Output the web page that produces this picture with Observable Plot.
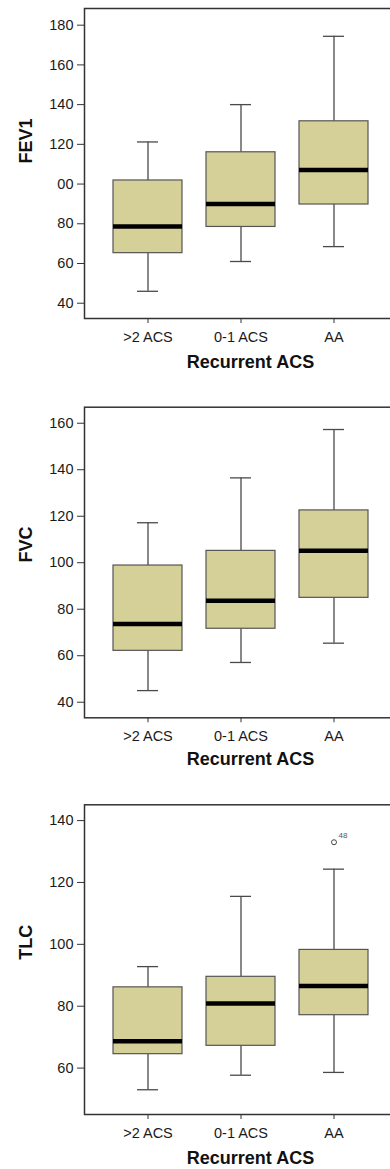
<!DOCTYPE html>
<html>
<head>
<meta charset="utf-8">
<script src="https://cdn.jsdelivr.net/npm/d3@7"></script>
<script src="https://cdn.jsdelivr.net/npm/@observablehq/plot@0.6"></script>
<style>
  html, body { margin: 0; padding: 0; background: #fff; overflow: hidden; }
  #wrap { position: relative; width: 390px; height: 1169px; overflow: hidden; }
  .panel { position: absolute; left: 0; max-width: none !important; }
  svg { font-family: "Liberation Sans", Arial, sans-serif; }
</style>
</head>
<body>
<div id="wrap"></div>
<script>
const groups = [">2 ACS", "0-1 ACS", "AA"];

// FEV1 box statistics per group
const fev1Min    = [46, 61, 68.5];
const fev1Q1     = [65.2, 78.4, 89.7];
const fev1Median = [78.6, 90, 107.1];
const fev1Q3     = [101.8, 116, 131.6];
const fev1Max    = [121.2, 140, 174.4];
const fev1Ticks  = [40, 60, 80, 100, 120, 140, 160, 180];
const fev1TickLabels = ["40", "60", "80", "00", "120", "140", "160", "180"];

// FVC box statistics per group
const fvcMin    = [45, 57.1, 65.4];
const fvcQ1     = [62.1, 71.6, 84.9];
const fvcMedian = [73.7, 83.7, 105.2];
const fvcQ3     = [98.8, 105.1, 122.5];
const fvcMax    = [117.2, 136.5, 157.3];
const fvcTicks  = [40, 60, 80, 100, 120, 140, 160];

// TLC box statistics per group
const tlcMin    = [53, 57.7, 58.6];
const tlcQ1     = [64.5, 67.2, 77.1];
const tlcMedian = [68.7, 80.9, 86.5];
const tlcQ3     = [86.1, 89.5, 98.2];
const tlcMax    = [92.8, 115.5, 124.3];
const tlcTicks  = [60, 80, 100, 120, 140];
const tlcOutlierGroup = ["AA"];
const tlcOutlierValue = [133];
const tlcOutlierLabel = ["48"];

const xTitle = "Recurrent ACS";

function rows(mn, q1, med, q3, mx) {
  return groups.map((g, i) => ({g, min: mn[i], q1: q1[i], med: med[i], q3: q3[i], max: mx[i]}));
}

function panel({top, height, marginTop, marginBottom, domain, ticks, tickLabels, label, data, outliers, titleDy}) {
  const fill = "#d5d098";
  const dark = "#4a4a4a";
  const marks = [
    Plot.ruleX(data, {x: "g", y1: "min", y2: "q1", stroke: dark, strokeWidth: 1.3}),
    Plot.ruleX(data, {x: "g", y1: "q3", y2: "max", stroke: dark, strokeWidth: 1.3}),
    Plot.tickY(data, {x: "g", y: "min", stroke: dark, strokeWidth: 1.3, insetLeft: 24, insetRight: 24}),
    Plot.tickY(data, {x: "g", y: "max", stroke: dark, strokeWidth: 1.3, insetLeft: 24, insetRight: 24}),
    Plot.barY(data, {x: "g", y1: "q1", y2: "q3", fill: fill, stroke: "#555", strokeWidth: 1.2}),
    Plot.tickY(data, {x: "g", y: "med", stroke: "#000", strokeWidth: 4.5}),
    Plot.frame({stroke: "#333", strokeWidth: 1.5}),
    Plot.axisY({ticks: ticks, tickSize: 7, tickPadding: 4, fontSize: 14.5, stroke: "#333",
      tickFormat: tickLabels ? (d => tickLabels[ticks.indexOf(d)]) : (d => String(d)),
      label: null, color: "#1a1a1a"}),
    Plot.axisX({tickSize: 5, tickPadding: 8, fontSize: 14.5, stroke: "#333", label: null, color: "#1a1a1a"}),
    Plot.text([label], {frameAnchor: "left", dx: -58, rotate: -90, text: d => d,
      fontWeight: "bold", fontSize: 18, fill: "#111"}),
    Plot.text([xTitle], {frameAnchor: "bottom", dy: titleDy, dx: 9, text: d => d,
      fontWeight: "bold", fontSize: 18, fill: "#111"})
  ];
  if (outliers) {
    marks.push(Plot.dot(outliers, {x: "g", y: "v", r: 2.5, stroke: "#444", strokeWidth: 1, fill: "none"}));
    marks.push(Plot.text(outliers, {x: "g", y: "v", text: "t", dx: 9, dy: -7, fontSize: 8, fill: "#555"}));
  }
  const chart = Plot.plot({
    width: 400,
    height: height,
    marginLeft: 84,
    marginRight: 2,
    marginTop: marginTop,
    marginBottom: marginBottom,
    x: {domain: groups, paddingInner: 0.255, paddingOuter: 0.3, axis: null},
    y: {domain: domain, axis: null},
    style: {fontFamily: "Liberation Sans, Arial, sans-serif", background: "#fff", maxWidth: "none"},
    marks
  });
  chart.classList.add("panel");
  chart.style.top = top + "px";
  chart.style.maxWidth = "none";
  chart.style.width = "400px";
  chart.style.height = height + "px";
  document.getElementById("wrap").appendChild(chart);
}

panel({top: 0, height: 380, marginTop: 8, marginBottom: 62, domain: [32.3, 188.4],
  ticks: fev1Ticks, tickLabels: fev1TickLabels, label: "FEV1", titleDy: 49,
  data: rows(fev1Min, fev1Q1, fev1Median, fev1Q3, fev1Max)});

panel({top: 380, height: 390, marginTop: 26.7, marginBottom: 52.7, domain: [33.3, 166.9],
  ticks: fvcTicks, label: "FVC", titleDy: 47,
  data: rows(fvcMin, fvcQ1, fvcMedian, fvcQ3, fvcMax)});

panel({top: 770, height: 399, marginTop: 34.3, marginBottom: 55, domain: [45, 145.1],
  ticks: tlcTicks, label: "TLC", titleDy: 49,
  data: rows(tlcMin, tlcQ1, tlcMedian, tlcQ3, tlcMax),
  outliers: tlcOutlierGroup.map((g, i) => ({g, v: tlcOutlierValue[i], t: tlcOutlierLabel[i]}))});
</script>
</body>
</html>
